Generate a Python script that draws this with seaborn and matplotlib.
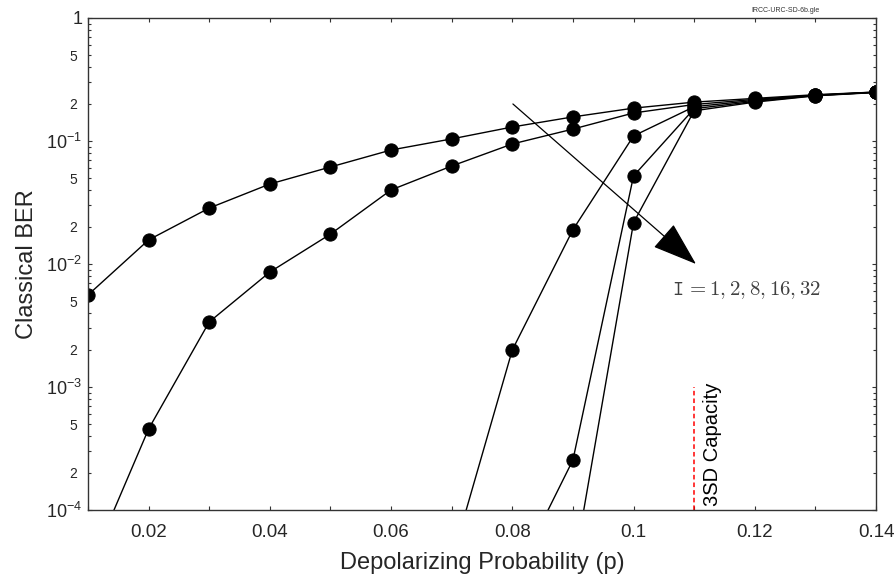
import numpy as np
import pandas as pd
import matplotlib
matplotlib.use("Agg")
import matplotlib.pyplot as plt
import seaborn as sns
from matplotlib.ticker import FixedLocator, FixedFormatter, MultipleLocator

# ---- data ----
p_I1 = [0.01, 0.02, 0.03, 0.04, 0.05, 0.06, 0.07, 0.08, 0.09, 0.10, 0.11, 0.12, 0.13, 0.14]
ber_I1 = [5.6e-3, 1.57e-2, 2.85e-2, 4.47e-2, 6.15e-2, 8.45e-2, 0.104, 0.13, 0.157, 0.185, 0.207, 0.222, 0.238, 0.25]

p_I2 = [0.01, 0.02, 0.03, 0.04, 0.05, 0.06, 0.07, 0.08, 0.09, 0.10, 0.11, 0.12, 0.13, 0.14]
ber_I2 = [3.2e-5, 4.56e-4, 3.38e-3, 8.6e-3, 1.75e-2, 4.0e-2, 6.26e-2, 9.46e-2, 0.125, 0.169, 0.198, 0.218, 0.236, 0.25]

p_I8 = [0.07, 0.08, 0.09, 0.10, 0.11, 0.12, 0.13, 0.14]
ber_I8 = [3.9e-5, 2.0e-3, 1.9e-2, 0.11, 0.19, 0.214, 0.235, 0.249]

p_I16 = [0.08, 0.09, 0.10, 0.11, 0.12, 0.13, 0.14]
ber_I16 = [2.6e-5, 2.55e-4, 5.2e-2, 0.183, 0.21, 0.234, 0.249]

p_I32 = [0.09, 0.10, 0.11, 0.12, 0.13, 0.14]
ber_I32 = [3.1e-5, 2.17e-2, 0.176, 0.207, 0.233, 0.248]

series = {"1": (p_I1, ber_I1), "2": (p_I2, ber_I2), "8": (p_I8, ber_I8),
          "16": (p_I16, ber_I16), "32": (p_I32, ber_I32)}

capacity_p = 0.11
x_ticks = [0.02, 0.04, 0.06, 0.08, 0.1, 0.12, 0.14]
x_tick_labels = ["0.02", "0.04", "0.06", "0.08", "0.1", "0.12", "0.14"]
major_y = [1e-4, 1e-3, 1e-2, 1e-1, 1]
major_y_labels = [r"$10^{-4}$", r"$10^{-3}$", r"$10^{-2}$", r"$10^{-1}$", "1"]

sns.set_theme(style="white")
plt.rcParams['font.family'] = ['Liberation Sans', 'DejaVu Sans']
plt.rcParams['mathtext.fontset'] = 'custom'
plt.rcParams['mathtext.rm'] = 'Liberation Sans'
plt.rcParams['mathtext.it'] = 'Liberation Sans:italic'

fig = plt.figure(figsize=(8.96, 5.80), dpi=100)
ax = fig.add_axes([88/896, 1 - 510/580, (876-88)/896, (510-18)/580])

for name, (px, py) in series.items():
    df = pd.DataFrame({"p": px, "ber": py})
    sns.lineplot(data=df, x="p", y="ber", ax=ax, color="black", lw=1.0,
                 marker="o", markersize=9.5, markeredgecolor="black",
                 markerfacecolor="black", clip_on=True)

ax.set_yscale("log")
ax.set_xlim(0.01, 0.14)
ax.set_ylim(1e-4, 1)

# capacity line
ax.plot([capacity_p, capacity_p], [1e-4, 1e-3], color="red", ls=(0, (3, 2)), lw=1.1)
ax.text(0.1131, 1.08e-4, "3SD Capacity", rotation=90, ha="center", va="bottom",
        fontsize=14.5, color="black")

# arrow
ax.annotate("", xy=(0.1103, 0.0100), xytext=(0.0801, 0.2),
            arrowprops=dict(arrowstyle="-|>,head_length=1.6,head_width=0.55",
                            mutation_scale=18, color="black", lw=0.9,
                            shrinkA=0, shrinkB=0))
ax.text(0.1064, 6.1e-3, r"$\mathtt{I}\,=1,2,8,16,32$", ha="left", va="center",
        fontsize=15, color="#404040", math_fontfamily="cm")

# ticks
ax.xaxis.set_major_locator(FixedLocator(x_ticks))
ax.xaxis.set_major_formatter(FixedFormatter(x_tick_labels))
ax.xaxis.set_minor_locator(MultipleLocator(0.01))
ax.yaxis.set_major_locator(FixedLocator(major_y))
ax.yaxis.set_major_formatter(FixedFormatter(major_y_labels))
minor_vals = []
minor_labs = []
for d in [1e-4, 1e-3, 1e-2, 1e-1]:
    for s in range(2, 10):
        minor_vals.append(s * d)
        minor_labs.append(str(s) if s in (2, 5) else "")
ax.yaxis.set_minor_locator(FixedLocator(minor_vals))
ax.yaxis.set_minor_formatter(FixedFormatter(minor_labs))

ax.tick_params(axis="both", which="both", direction="in", top=True, right=True,
               bottom=True, left=True, color="#333333", width=0.8)
ax.tick_params(axis="x", which="both", length=3, labelsize=13.5, pad=10)
ax.tick_params(axis="y", which="major", length=3, labelsize=13, pad=4)
ax.tick_params(axis="y", which="minor", length=2, labelsize=10, pad=8)

for sp in ax.spines.values():
    sp.set_color("#333333")
    sp.set_linewidth(1.0)

ax.set_xlabel("Depolarizing Probability (p)", fontsize=17, labelpad=8)
ax.set_ylabel("Classical BER", fontsize=17, labelpad=6)

fig.text(785/896, 1 - 10/580, "IRCC-URC-SD-6b.gle", fontsize=5, ha="center", va="center",
         color="#333333")

fig.savefig("out.png", dpi=100)
